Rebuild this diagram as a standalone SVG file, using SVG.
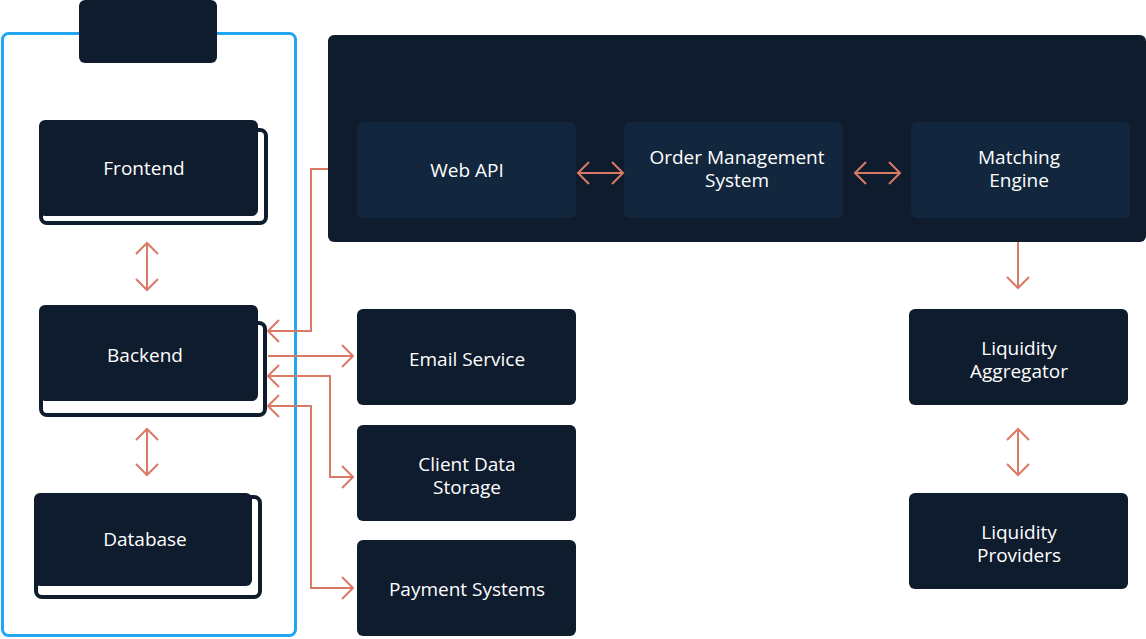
<svg xmlns="http://www.w3.org/2000/svg" width="1146" height="639" viewBox="0 0 1146 639">
<defs>
<style>
.node{fill:#0f1c2e}
.inner{fill:#12263d}
.back{fill:#ffffff;stroke:#0f1c2e;stroke-width:4}
.lbl{fill:#ffffff;font-family:"Open Sans","Noto Sans","DejaVu Sans",sans-serif;font-size:19px;text-anchor:middle}
.con{fill:none;stroke:#d97a66;stroke-width:2}
</style>
<marker id="ah" markerUnits="userSpaceOnUse" markerWidth="14" markerHeight="24" viewBox="0 0 14 24" refX="12" refY="12" orient="auto-start-reverse">
<path d="M1,1 L12,12 L1,23" fill="none" stroke="#d97a66" stroke-width="2"/>
</marker>
</defs>
<rect width="1146" height="639" fill="#ffffff"/>

<g id="client-container">
<rect x="2.5" y="33.5" width="293" height="602" rx="6" fill="none" stroke="#22a6f2" stroke-width="3"/>
<rect x="79" y="0" width="138" height="63" rx="6" class="node"/>
</g>

<g id="frontend">
<rect x="41" y="130" width="225" height="93" rx="6" class="back"/>
<rect x="39" y="120" width="219" height="96" rx="6" class="node"/>
<text x="144" y="175" class="lbl">Frontend</text>
</g>
<g id="backend">
<rect x="41" y="323" width="224" height="92" rx="6" class="back"/>
<rect x="39" y="305" width="219" height="96" rx="6" class="node"/>
<text x="145" y="362" class="lbl">Backend</text>
</g>
<g id="database">
<rect x="36" y="497" width="224" height="100" rx="6" class="back"/>
<rect x="34" y="493" width="218" height="93" rx="6" class="node"/>
<text x="145" y="546" class="lbl">Database</text>
</g>

<g id="exchange-core">
<rect x="328" y="35" width="818" height="207" rx="6" class="node"/>
</g>
<g id="web-api">
<rect x="357" y="122" width="219" height="96" rx="6" class="inner"/>
<text x="467" y="177" class="lbl">Web API</text>
</g>
<g id="oms">
<rect x="624" y="122" width="219" height="96" rx="6" class="inner"/>
<text x="737" y="164" class="lbl">Order Management</text>
<text x="737" y="187" class="lbl">System</text>
</g>
<g id="matching-engine">
<rect x="911" y="122" width="219" height="96" rx="6" class="inner"/>
<text x="1019" y="164" class="lbl">Matching</text>
<text x="1019" y="187" class="lbl">Engine</text>
</g>

<g id="email-service">
<rect x="357" y="309" width="219" height="96" rx="6" class="node"/>
<text x="467" y="366" class="lbl">Email Service</text>
</g>
<g id="client-data-storage">
<rect x="357" y="425" width="219" height="96" rx="6" class="node"/>
<text x="467" y="471" class="lbl">Client Data</text>
<text x="467" y="494" class="lbl">Storage</text>
</g>
<g id="payment-systems">
<rect x="357" y="540" width="219" height="96" rx="6" class="node"/>
<text x="467" y="596" class="lbl">Payment Systems</text>
</g>

<g id="liquidity-aggregator">
<rect x="909" y="309" width="219" height="96" rx="6" class="node"/>
<text x="1019" y="355" class="lbl">Liquidity</text>
<text x="1019" y="378" class="lbl">Aggregator</text>
</g>
<g id="liquidity-providers">
<rect x="909" y="493" width="219" height="96" rx="6" class="node"/>
<text x="1019" y="539" class="lbl">Liquidity</text>
<text x="1019" y="562" class="lbl">Providers</text>
</g>

<g id="connectors">
<line x1="147" y1="243" x2="147" y2="290" class="con" marker-start="url(#ah)" marker-end="url(#ah)"/>
<line x1="147" y1="429" x2="147" y2="475" class="con" marker-start="url(#ah)" marker-end="url(#ah)"/>
<line x1="578" y1="173" x2="623" y2="173" class="con" marker-start="url(#ah)" marker-end="url(#ah)"/>
<line x1="855" y1="173" x2="900" y2="173" class="con" marker-start="url(#ah)" marker-end="url(#ah)"/>
<line x1="1018" y1="242" x2="1018" y2="288" class="con" marker-end="url(#ah)"/>
<line x1="1018" y1="429" x2="1018" y2="475" class="con" marker-start="url(#ah)" marker-end="url(#ah)"/>
<polyline points="328,169 311,169 311,331 268,331" class="con" marker-end="url(#ah)"/>
<line x1="268" y1="356" x2="353" y2="356" class="con" marker-end="url(#ah)"/>
<polyline points="268,376 330,376 330,477 353,477" class="con" marker-start="url(#ah)" marker-end="url(#ah)"/>
<polyline points="268,406 311,406 311,588 353,588" class="con" marker-start="url(#ah)" marker-end="url(#ah)"/>
</g>
</svg>
